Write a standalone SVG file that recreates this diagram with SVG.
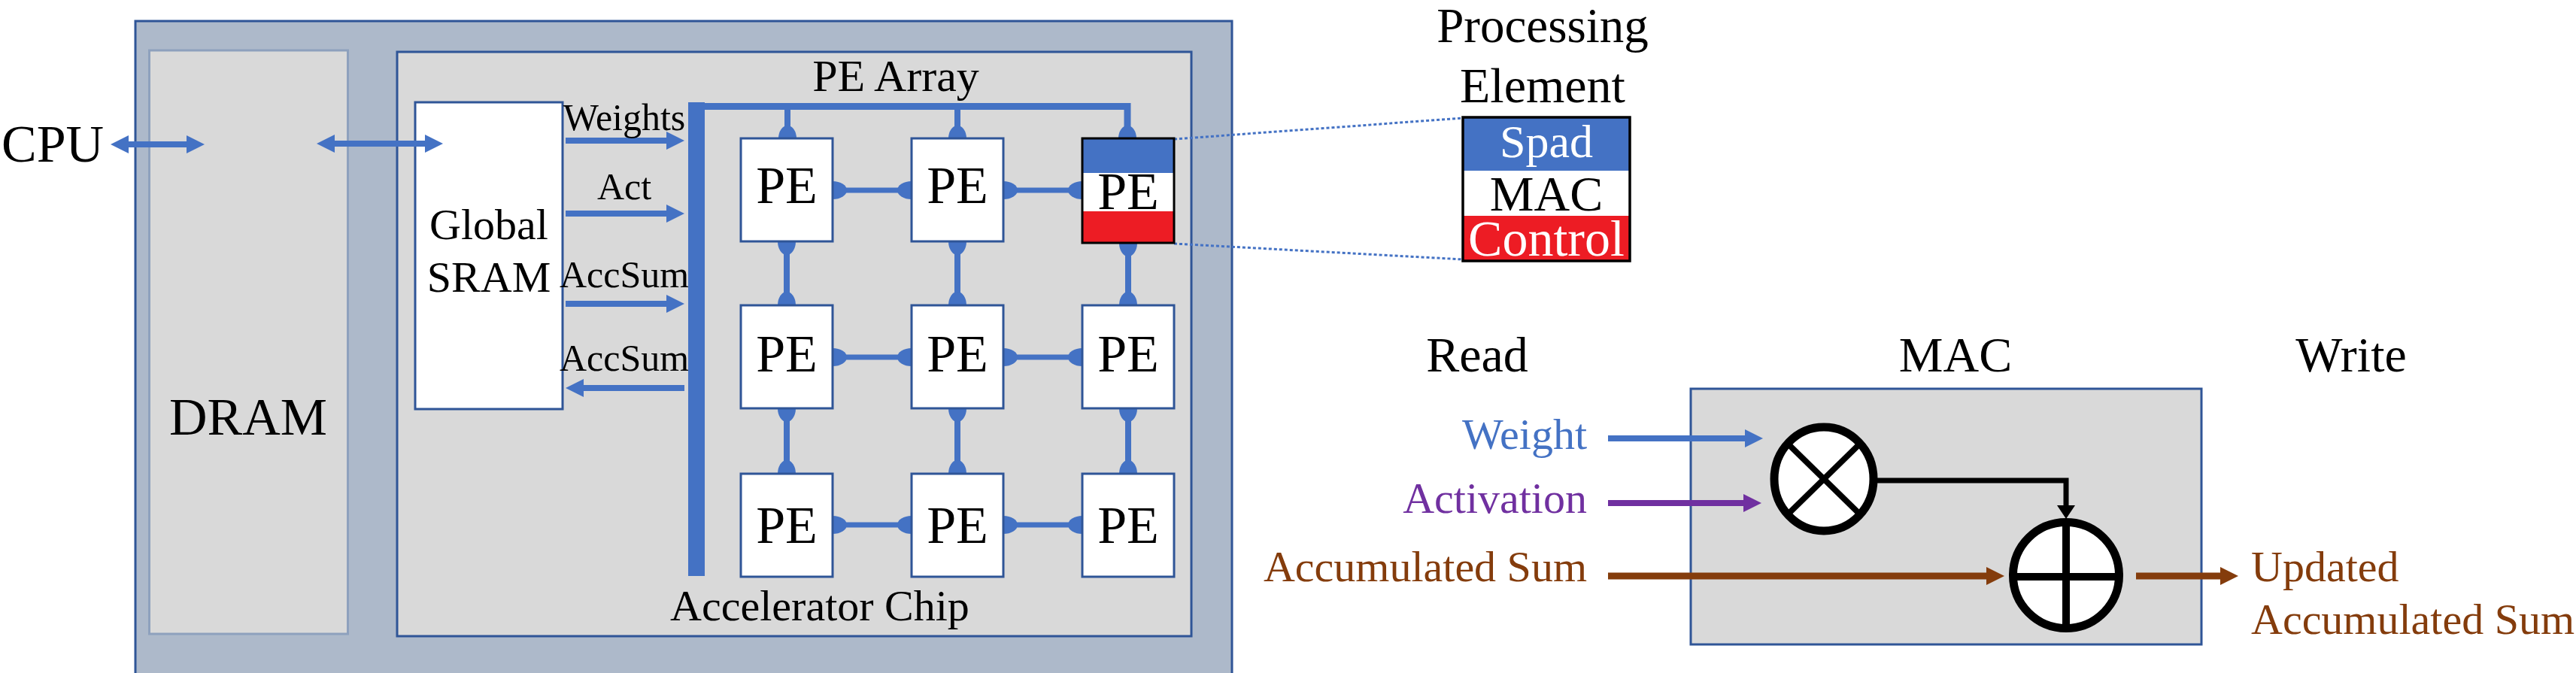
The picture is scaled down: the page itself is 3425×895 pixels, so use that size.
<svg xmlns="http://www.w3.org/2000/svg" width="3425" height="895" viewBox="0 0 3425 895">
<style>
text{font-family:"Liberation Serif","Times New Roman",serif;fill:#000}
.blueArrow{stroke:#4472C4;stroke-width:8;fill:none}
.pe{fill:#fff;stroke:#2F5597;stroke-width:3}
.pet{font-size:70px;text-anchor:middle}
.lab{font-size:50px;text-anchor:middle}
.conn{stroke:#4472C4;fill:none}
.bulb{fill:#4472C4}
.head{font-size:66px;text-anchor:middle}
.in{font-size:58px;text-anchor:end}
</style>
<defs>
<marker id="ahBlue" markerUnits="userSpaceOnUse" viewBox="0 0 24 24" markerWidth="24" markerHeight="24" refX="0" refY="12" orient="auto-start-reverse"><path d="M0,0 L24,12 L0,24 z" fill="#4472C4"/></marker>
<marker id="ahPurple" markerUnits="userSpaceOnUse" viewBox="0 0 24 24" markerWidth="24" markerHeight="24" refX="0" refY="12" orient="auto"><path d="M0,0 L24,12 L0,24 z" fill="#7030A0"/></marker>
<marker id="ahBrown" markerUnits="userSpaceOnUse" viewBox="0 0 24 24" markerWidth="24" markerHeight="24" refX="0" refY="12" orient="auto"><path d="M0,0 L24,12 L0,24 z" fill="#843C0C"/></marker>
<marker id="ahBlack" markerUnits="userSpaceOnUse" viewBox="0 0 18 24" markerWidth="18" markerHeight="24" refX="0" refY="12" orient="auto"><path d="M0,0 L18,12 L0,24 z" fill="#000"/></marker>
</defs>
<rect width="3425" height="895" fill="#fff"/>

<g id="system">
<rect x="180" y="28" width="1458" height="880" fill="#ADB9CA" stroke="#2F5597" stroke-width="3"/>
</g>
<g id="dram">
<rect x="198.5" y="67" width="264" height="776" fill="#D9D9D9" stroke="#8EA1BD" stroke-width="3"/>
<text x="330" y="578" font-size="70" text-anchor="middle">DRAM</text>
</g>
<g id="accelerator">
<rect x="528" y="69" width="1056" height="777" fill="#D9D9D9" stroke="#2F5597" stroke-width="3"/>
<text x="1090" y="825" font-size="58" text-anchor="middle">Accelerator Chip</text>
<text x="1191" y="121" font-size="60" text-anchor="middle">PE Array</text>
</g>
<g id="cpu">
<text x="2" y="215" font-size="70">CPU</text>
</g>
<g id="sram">
<rect x="552" y="136" width="196" height="408" fill="#fff" stroke="#2F5597" stroke-width="3"/>
<text x="650" y="318" font-size="58" text-anchor="middle">Global</text>
<text x="650" y="388" font-size="58" text-anchor="middle">SRAM</text>
</g>

<g id="mac-unit">
<text class="head" x="1964" y="494">Read</text>
<text class="head" x="2600" y="494">MAC</text>
<text class="head" x="3126" y="494">Write</text>
<rect x="2248" y="517" width="679" height="340" fill="#D9D9D9" stroke="#2F5597" stroke-width="3"/>
<text class="in" x="2110" y="597" style="fill:#4472C4">Weight</text>
<text class="in" x="2110" y="682" style="fill:#7030A0">Activation</text>
<text class="in" x="2110" y="773" style="fill:#843C0C">Accumulated Sum</text>
<text x="2993" y="773" font-size="58" style="fill:#843C0C">Updated</text>
<text x="2993" y="843" font-size="58" style="fill:#843C0C">Accumulated Sum</text>
</g>

<g id="connectors">
<line class="blueArrow" x1="171" y1="192" x2="248" y2="192" marker-start="url(#ahBlue)" marker-end="url(#ahBlue)"/>
<line class="blueArrow" x1="445" y1="191" x2="565" y2="191" marker-start="url(#ahBlue)" marker-end="url(#ahBlue)"/>
<line class="blueArrow" x1="752" y1="187" x2="886" y2="187" marker-end="url(#ahBlue)"/>
<line class="blueArrow" x1="752" y1="284" x2="886" y2="284" marker-end="url(#ahBlue)"/>
<line class="blueArrow" x1="752" y1="404" x2="886" y2="404" marker-end="url(#ahBlue)"/>
<line class="blueArrow" x1="776" y1="516" x2="910" y2="516" marker-start="url(#ahBlue)"/>
<text class="lab" x="830" y="173">Weights</text>
<text class="lab" x="830" y="265">Act</text>
<text class="lab" x="830" y="382">AccSum</text>
<text class="lab" x="830" y="493">AccSum</text>
<!-- bus -->
<rect x="915" y="136" width="22" height="630" fill="#4472C4"/>
<path class="conn" stroke-width="9" d="M915,141.5 H1499 V180"/>
<line class="conn" stroke-width="8" x1="1047" y1="141" x2="1047" y2="180"/>
<line class="conn" stroke-width="8" x1="1273" y1="141" x2="1273" y2="180"/>
<ellipse class="bulb" cx="1047" cy="184" rx="12" ry="17"/>
<ellipse class="bulb" cx="1273" cy="184" rx="12" ry="17"/>
<ellipse class="bulb" cx="1499" cy="184" rx="12" ry="17"/>
<!-- vertical links -->
<g>
<line class="conn" stroke-width="8" x1="1046" y1="321" x2="1046" y2="406"/>
<line class="conn" stroke-width="8" x1="1273" y1="321" x2="1273" y2="406"/>
<line class="conn" stroke-width="8" x1="1500" y1="321" x2="1500" y2="406"/>
<line class="conn" stroke-width="8" x1="1046" y1="543" x2="1046" y2="630"/>
<line class="conn" stroke-width="8" x1="1273" y1="543" x2="1273" y2="630"/>
<line class="conn" stroke-width="8" x1="1500" y1="543" x2="1500" y2="630"/>
<ellipse class="bulb" cx="1046" cy="321" rx="12" ry="18"/>
<ellipse class="bulb" cx="1273" cy="321" rx="12" ry="18"/>
<ellipse class="bulb" cx="1500" cy="323" rx="12" ry="18"/>
<ellipse class="bulb" cx="1046" cy="406" rx="12" ry="18"/>
<ellipse class="bulb" cx="1273" cy="406" rx="12" ry="18"/>
<ellipse class="bulb" cx="1500" cy="406" rx="12" ry="18"/>
<ellipse class="bulb" cx="1046" cy="543" rx="12" ry="18"/>
<ellipse class="bulb" cx="1273" cy="543" rx="12" ry="18"/>
<ellipse class="bulb" cx="1500" cy="543" rx="12" ry="18"/>
<ellipse class="bulb" cx="1046" cy="630" rx="12" ry="18"/>
<ellipse class="bulb" cx="1273" cy="630" rx="12" ry="18"/>
<ellipse class="bulb" cx="1500" cy="630" rx="12" ry="18"/>
</g>
<!-- horizontal links -->
<g>
<line class="conn" stroke-width="7" x1="1107" y1="253" x2="1212" y2="253"/>
<line class="conn" stroke-width="7" x1="1334" y1="253" x2="1439" y2="253"/>
<line class="conn" stroke-width="7" x1="1107" y1="475" x2="1212" y2="475"/>
<line class="conn" stroke-width="7" x1="1334" y1="475" x2="1439" y2="475"/>
<line class="conn" stroke-width="7" x1="1107" y1="698" x2="1212" y2="698"/>
<line class="conn" stroke-width="7" x1="1334" y1="698" x2="1439" y2="698"/>
<ellipse class="bulb" cx="1107" cy="253" rx="19" ry="12"/>
<ellipse class="bulb" cx="1212" cy="253" rx="19" ry="12"/>
<ellipse class="bulb" cx="1334" cy="253" rx="19" ry="12"/>
<ellipse class="bulb" cx="1439" cy="253" rx="19" ry="12"/>
<ellipse class="bulb" cx="1107" cy="475" rx="19" ry="12"/>
<ellipse class="bulb" cx="1212" cy="475" rx="19" ry="12"/>
<ellipse class="bulb" cx="1334" cy="475" rx="19" ry="12"/>
<ellipse class="bulb" cx="1439" cy="475" rx="19" ry="12"/>
<ellipse class="bulb" cx="1107" cy="698" rx="19" ry="12"/>
<ellipse class="bulb" cx="1212" cy="698" rx="19" ry="12"/>
<ellipse class="bulb" cx="1334" cy="698" rx="19" ry="12"/>
<ellipse class="bulb" cx="1439" cy="698" rx="19" ry="12"/>
</g>
<!-- zoom lines -->
<line x1="1561" y1="185" x2="1945" y2="157" stroke="#4472C4" stroke-width="3" stroke-dasharray="4 3"/>
<line x1="1561" y1="324" x2="1945" y2="345" stroke="#4472C4" stroke-width="3" stroke-dasharray="4 3"/>
<!-- MAC arrows -->
<line x1="2138" y1="583" x2="2320" y2="583" stroke="#4472C4" stroke-width="8" marker-end="url(#ahBlue)"/>
<line x1="2138" y1="669" x2="2318" y2="669" stroke="#7030A0" stroke-width="8" marker-end="url(#ahPurple)"/>
<line x1="2138" y1="766" x2="2641" y2="766" stroke="#843C0C" stroke-width="9" marker-end="url(#ahBrown)"/>
<line x1="2840" y1="766" x2="2952" y2="766" stroke="#843C0C" stroke-width="9" marker-end="url(#ahBrown)"/>
</g>

<g id="pe-r1c1"><rect class="pe" x="985" y="184" width="122" height="137"/><text class="pet" x="1046" y="270">PE</text></g>
<g id="pe-r1c2"><rect class="pe" x="1212" y="184" width="122" height="137"/><text class="pet" x="1273" y="270">PE</text></g>
<g id="pe-r1c3">
<rect x="1439" y="184" width="122" height="46" fill="#4472C4"/>
<rect x="1439" y="230" width="122" height="51" fill="#fff"/>
<rect x="1439" y="281" width="122" height="42" fill="#ED1C24"/>
<rect x="1439" y="184" width="122" height="139" fill="none" stroke="#000" stroke-width="3"/>
<text class="pet" x="1500" y="278">PE</text>
</g>
<g id="pe-r2c1"><rect class="pe" x="985" y="406" width="122" height="137"/><text class="pet" x="1046" y="494">PE</text></g>
<g id="pe-r2c2"><rect class="pe" x="1212" y="406" width="122" height="137"/><text class="pet" x="1273" y="494">PE</text></g>
<g id="pe-r2c3"><rect class="pe" x="1439" y="406" width="122" height="137"/><text class="pet" x="1500" y="494">PE</text></g>
<g id="pe-r3c1"><rect class="pe" x="985" y="630" width="122" height="137"/><text class="pet" x="1046" y="722">PE</text></g>
<g id="pe-r3c2"><rect class="pe" x="1212" y="630" width="122" height="137"/><text class="pet" x="1273" y="722">PE</text></g>
<g id="pe-r3c3"><rect class="pe" x="1439" y="630" width="122" height="137"/><text class="pet" x="1500" y="722">PE</text></g>

<g id="pe-detail">
<text x="2051" y="56" font-size="65" text-anchor="middle">Processing</text>
<text x="2051" y="136" font-size="66" text-anchor="middle">Element</text>
<rect x="1945" y="156" width="222" height="71" fill="#4472C4"/>
<rect x="1945" y="227" width="222" height="60" fill="#fff"/>
<rect x="1945" y="287" width="222" height="60" fill="#ED1C24"/>
<rect x="1945" y="156" width="222" height="191" fill="none" stroke="#000" stroke-width="3.5"/>
<text x="2056" y="209" font-size="62" text-anchor="middle" style="fill:#fff">Spad</text>
<text x="2056" y="280" font-size="66" text-anchor="middle">MAC</text>
<text x="2056" y="340" font-size="68" text-anchor="middle" style="fill:#fff">Control</text>
</g>

<g id="multiplier">
<ellipse cx="2425" cy="637" rx="66" ry="69" fill="#fff" stroke="#000" stroke-width="11"/>
<line x1="2376" y1="589" x2="2474" y2="685" stroke="#000" stroke-width="8"/>
<line x1="2474" y1="589" x2="2376" y2="685" stroke="#000" stroke-width="8"/>
</g>
<g id="product-link">
<path d="M2490,639 H2747 V672" fill="none" stroke="#000" stroke-width="7" marker-end="url(#ahBlack)"/>
</g>
<g id="adder">
<circle cx="2747" cy="765" r="70.5" fill="#fff" stroke="#000" stroke-width="11"/>
<line x1="2747" y1="695" x2="2747" y2="836" stroke="#000" stroke-width="10"/>
<line x1="2677" y1="767" x2="2817" y2="767" stroke="#000" stroke-width="10"/>
</g>
</svg>
